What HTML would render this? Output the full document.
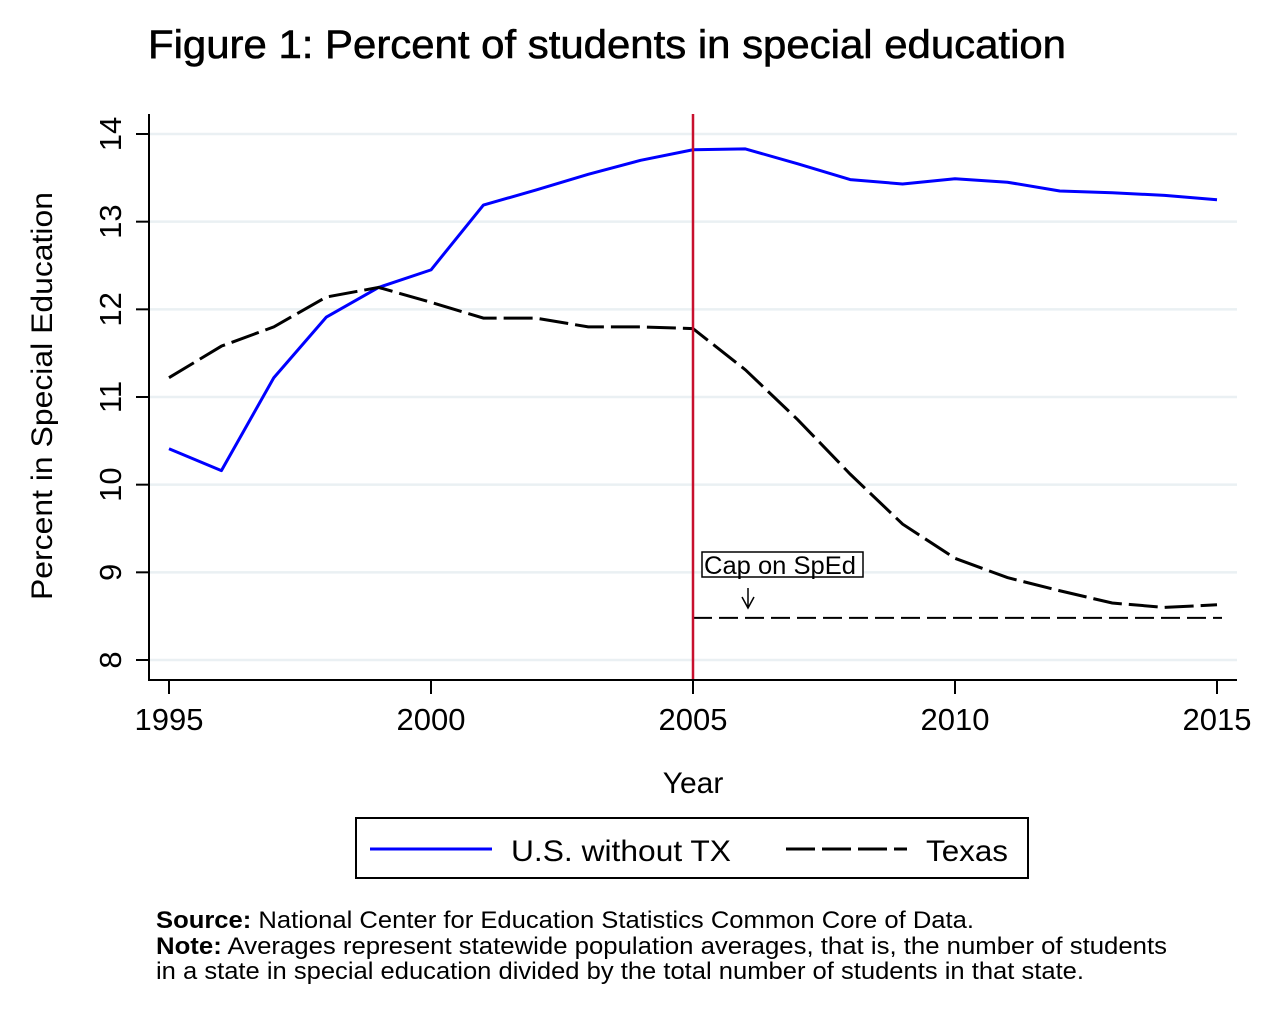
<!DOCTYPE html>
<html><head><meta charset="utf-8"><style>
html,body{margin:0;padding:0;background:#fff}
svg{display:block;font-family:"Liberation Sans",Arial,sans-serif}
</style></head><body>
<svg id="chart" width="1271" height="1011" viewBox="0 0 1271 1011" xmlns="http://www.w3.org/2000/svg">
<rect width="1271" height="1011" fill="#fff"/>
<text x="148" y="58" font-size="40" stroke="#000" stroke-width="0.6" textLength="918" lengthAdjust="spacingAndGlyphs">Figure 1: Percent of students in special education</text>
<g id="grid"></g>
<g id="marks"></g>
<g id="axes"></g>
<text transform="translate(52,396) rotate(-90)" text-anchor="middle" font-size="30" textLength="408" lengthAdjust="spacingAndGlyphs">Percent in Special Education</text>
<text x="693" y="793" text-anchor="middle" font-size="30">Year</text>
<g>
<rect x="356" y="818" width="672" height="60" fill="none" stroke="#000" stroke-width="2"/>
<line x1="370" y1="849" x2="492" y2="849" stroke="#0000ff" stroke-width="3"/>
<text x="511" y="861" font-size="30" textLength="220" lengthAdjust="spacingAndGlyphs">U.S. without TX</text>
<line x1="786" y1="849" x2="907" y2="849" stroke="#000" stroke-width="3" stroke-dasharray="29,7"/>
<text x="926" y="861" font-size="30" textLength="82" lengthAdjust="spacingAndGlyphs">Texas</text>
</g>
<g font-size="24">
<text x="156" y="928" textLength="818" lengthAdjust="spacingAndGlyphs"><tspan font-weight="bold">Source:</tspan> National Center for Education Statistics Common Core of Data.</text>
<text x="156" y="954" textLength="1011" lengthAdjust="spacingAndGlyphs"><tspan font-weight="bold">Note:</tspan> Averages represent statewide population averages, that is, the number of students</text>
<text x="156" y="979" textLength="928" lengthAdjust="spacingAndGlyphs">in a state in special education divided by the total number of students in that state.</text>
</g>
</svg>
<script>
const years = [1995,1996,1997,1998,1999,2000,2001,2002,2003,2004,2005,2006,2007,2008,2009,2010,2011,2012,2013,2014,2015];
const usValues = [10.41,10.16,11.22,11.91,12.25,12.45,13.19,13.36,13.54,13.70,13.82,13.83,13.66,13.48,13.43,13.49,13.45,13.35,13.33,13.30,13.25];
const texasValues = [11.22,11.58,11.80,12.14,12.25,12.08,11.90,11.90,11.80,11.80,11.78,11.31,10.74,10.12,9.55,9.16,8.94,8.79,8.65,8.60,8.63];
const xTicks = [1995,2000,2005,2010,2015];
const yTicks = [8,9,10,11,12,13,14];
const capYear = [2005];
const capValue = [8.48];
const capLabel = ["Cap on SpEd"];

const NS = "http://www.w3.org/2000/svg";
const X = v => 169 + (v - 1995) * (1217 - 169) / 20;
const Y = v => 660 - (v - 8) * (660 - 134) / 6;
function mk(tag, attrs, parent){const e=document.createElementNS(NS,tag);for(const k in attrs)e.setAttribute(k,attrs[k]);parent.appendChild(e);return e;}
const grid=document.getElementById('grid'), marks=document.getElementById('marks'), axes=document.getElementById('axes');

yTicks.forEach(t=>{
  const g=mk('line',{x1:149,x2:1237,y1:Y(t),y2:Y(t),stroke:'#eaf0f3','stroke-width':2.5},grid);
  
  
  const tk=mk('line',{x1:136,x2:149,y1:Y(t),y2:Y(t),stroke:'#000','stroke-width':2},axes);
  
  
  const lb=mk('text',{transform:`translate(121,${Y(t)}) rotate(-90)`,'text-anchor':'middle','font-size':31},axes);
  
  
  lb.textContent=t;
});
xTicks.forEach(t=>{
  const tk=mk('line',{x1:X(t),x2:X(t),y1:680,y2:694,stroke:'#000','stroke-width':2},axes);
  
  
  const lb=mk('text',{x:X(t),y:730,'text-anchor':'middle','font-size':31},axes);
  
  
  lb.textContent=t;
});
const ya=mk('line',{x1:149,x2:149,y1:114,y2:681,stroke:'#000','stroke-width':2},axes);


const xa=mk('line',{x1:148,x2:1237,y1:680,y2:680,stroke:'#000','stroke-width':2},axes);



const usPts=years.map((y,i)=>X(y)+','+Y(usValues[i])).join(' ');
const us=mk('polyline',{points:usPts,fill:'none',stroke:'#0000ff','stroke-width':3,'stroke-linejoin':'round'},marks);


const txPts=years.map((y,i)=>X(y)+','+Y(texasValues[i])).join(' ');
const tx=mk('polyline',{points:txPts,fill:'none',stroke:'#000','stroke-width':3,'stroke-dasharray':'29,7'},marks);



const cap=mk('line',{x1:X(capYear[0]),x2:1222,y1:Y(capValue[0]),y2:Y(capValue[0]),stroke:'#000','stroke-width':2,'stroke-dasharray':'19,7'},marks);


const red=mk('line',{x1:X(capYear[0]),x2:X(capYear[0]),y1:114,y2:680,stroke:'#c8102e','stroke-width':2.5},marks);


const box=mk('rect',{x:702,y:552,width:161,height:25,fill:'#fff',stroke:'#000','stroke-width':1.5},marks);


const cl=mk('text',{x:704,y:574,'font-size':25,textLength:152,lengthAdjust:'spacingAndGlyphs'},marks);


cl.textContent=capLabel[0];
const ar=mk('path',{d:'M748,588 L748,607 M742,597 L748,608 L754,597',fill:'none',stroke:'#000','stroke-width':1.5},marks);


</script>
</body></html>
